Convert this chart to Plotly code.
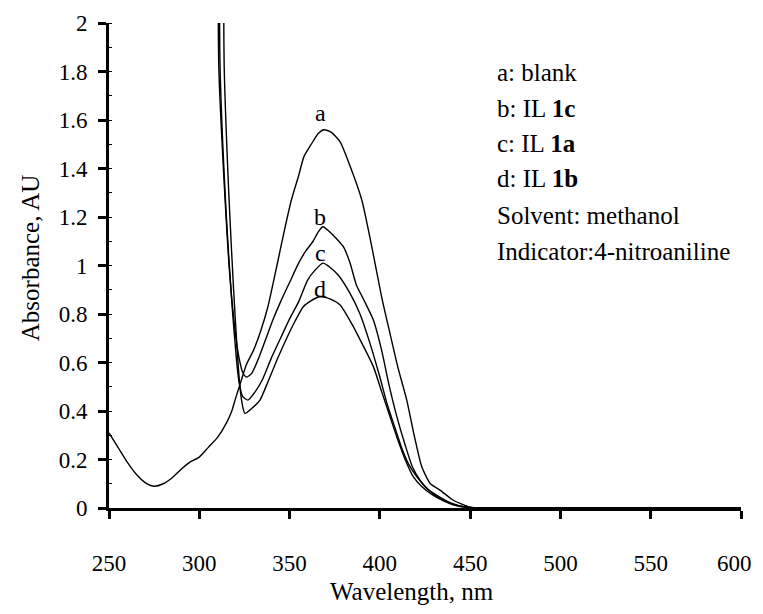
import plotly.graph_objects as go

# ---- data ----
wl_a = [250, 255, 260, 265, 270, 275, 280, 285, 290, 295, 300, 305, 310, 315, 318, 320, 323, 326, 330, 334, 338,
        343, 347, 351, 355, 358, 362, 366, 369, 373, 378, 383.5, 390, 393, 396, 401, 405.6, 410, 414.9, 419,
        423.2, 428, 433.3, 440, 444.4, 450, 460, 600]
abs_a = [0.31, 0.25, 0.19, 0.14, 0.105, 0.09, 0.10, 0.125, 0.16, 0.19, 0.21, 0.25, 0.29, 0.35, 0.40, 0.45, 0.52,
         0.59, 0.65, 0.73, 0.83, 1.0, 1.14, 1.27, 1.37, 1.45, 1.50, 1.545, 1.56, 1.55, 1.51, 1.41, 1.27, 1.17,
         1.06, 0.87, 0.72, 0.58, 0.445, 0.30, 0.17, 0.10, 0.074, 0.035, 0.019, 0.003, 0.0, 0.0]

wl_b = [310.5, 310.8, 314.3, 317, 320, 322, 324, 326.2, 329, 333, 337, 341, 345, 350, 355, 359, 363, 366, 368.5,
        372, 376, 380, 383.5, 387, 391, 396.4, 401, 405, 409.3, 414, 418, 422.2, 426, 432, 438, 444, 450, 460, 600]
abs_b = [2.4, 1.82, 1.27, 0.95, 0.72, 0.62, 0.56, 0.54, 0.555, 0.62, 0.70, 0.78, 0.85, 0.93, 1.01, 1.06, 1.10,
         1.14, 1.16, 1.14, 1.11, 1.075, 1.01, 0.92, 0.86, 0.775, 0.65, 0.51, 0.38, 0.26, 0.17, 0.115, 0.08, 0.05,
         0.025, 0.01, 0.002, 0.0, 0.0]

wl_c = [311.2, 311.5, 315, 318, 320.5, 322, 324, 327, 331, 335, 340, 345, 350, 355, 360, 364, 368.5, 372, 377,
        383.5, 389, 394.5, 400, 404, 407.5, 412, 416, 420.4, 425, 431, 437, 443, 450, 460, 600]
abs_c = [2.4, 1.82, 1.2, 0.85, 0.62, 0.52, 0.46, 0.445, 0.48, 0.53, 0.62, 0.70, 0.78, 0.85, 0.94, 0.98, 1.01,
         0.995, 0.96, 0.885, 0.80, 0.68, 0.54, 0.43, 0.35, 0.25, 0.18, 0.13, 0.09, 0.05, 0.025, 0.01, 0.002,
         0.0, 0.0]

wl_d = [313.5, 313.8, 316.5, 319, 321, 322.5, 324, 325.3, 329, 333.6, 338, 343, 348.4, 353, 357.6, 362, 366, 369,
        373, 378, 385.3, 390, 396.4, 401, 405.6, 410, 414, 418.5, 423, 429, 435, 441, 448, 460, 600]
abs_d = [2.4, 1.82, 1.27, 0.9, 0.65, 0.5, 0.42, 0.39, 0.41, 0.445, 0.52, 0.61, 0.70, 0.77, 0.83, 0.855, 0.87,
         0.87, 0.86, 0.837, 0.748, 0.68, 0.583, 0.48, 0.377, 0.28, 0.20, 0.129, 0.09, 0.055, 0.03, 0.012,
         0.002, 0.0, 0.0]

curve_labels = ["a", "b", "c", "d"]
label_x = [366.9, 366.9, 366.9, 366.9]
label_y = [1.63, 1.20, 1.05, 0.905]

legend_lines = ["a: blank", "b: IL <b>1c</b>", "c: IL <b>1a</b>", "d: IL <b>1b</b>",
                "Solvent: methanol", "Indicator:4-nitroaniline"]
x_ticks = [250, 300, 350, 400, 450, 500, 550, 600]
y_ticks = [0, 0.2, 0.4, 0.6, 0.8, 1, 1.2, 1.4, 1.6, 1.8, 2]

FONT = "Liberation Serif, Times New Roman, serif"

fig = go.Figure()
for xs, ys in [(wl_a, abs_a), (wl_b, abs_b), (wl_c, abs_c), (wl_d, abs_d)]:
    fig.add_trace(go.Scatter(x=xs, y=ys, mode="lines",
                             line=dict(color="black", width=1.4, shape="spline", smoothing=0.6),
                             showlegend=False, hoverinfo="skip"))

for t, xv, yv in zip(curve_labels, label_x, label_y):
    fig.add_annotation(x=xv, y=yv, xref="x", yref="y", text=t, showarrow=False,
                       font=dict(family=FONT, size=24, color="black"))

leg_y = [1.794, 1.649, 1.505, 1.357, 1.208, 1.057]
for t, yv in zip(legend_lines, leg_y):
    fig.add_annotation(x=463.8, y=yv, xref="x", yref="y", text=t, showarrow=False,
                       xanchor="left", yanchor="middle",
                       font=dict(family=FONT, size=25, color="black"))

fig.add_annotation(x=-0.125, y=0.515, xref="paper", yref="paper", text="Absorbance, AU",
                   showarrow=False, textangle=-90, xanchor="center", yanchor="middle",
                   font=dict(family=FONT, size=25, color="black"))
fig.add_annotation(x=0.479, y=-0.173, xref="paper", yref="paper", text="Wavelength, nm",
                   showarrow=False, xanchor="center", yanchor="middle",
                   font=dict(family=FONT, size=25, color="black"))

# last tick label sits at the very right edge: draw it right-anchored so it is not clipped
x_tick_text = [str(v) for v in x_ticks]
last_label = x_tick_text[-1]
x_tick_text[-1] = ""
fig.add_annotation(x=x_ticks[-1], y=-0.114, xref="x", yref="paper", text=last_label,
                   showarrow=False, xanchor="right", yanchor="middle", xshift=13,
                   font=dict(family=FONT, size=23, color="black"))

fig.update_layout(
    width=755, height=598,
    margin=dict(l=101, r=22, t=15, b=98),
    paper_bgcolor="white", plot_bgcolor="white",
    font=dict(family=FONT, size=23, color="black"),
    showlegend=False,
)
fig.update_xaxes(range=[250, 600], tickvals=x_ticks, ticktext=x_tick_text,
                 automargin=False,
                 showgrid=False, zeroline=False, showline=True, linecolor="black", linewidth=3,
                 ticks="outside", ticklen=8, tickwidth=2.5, tickcolor="black",
                 ticklabelstandoff=24, tickfont=dict(family=FONT, size=23, color="black"))
fig.update_yaxes(range=[0, 2], tickvals=y_ticks, ticktext=[("%g" % v) for v in y_ticks],
                 automargin=False,
                 showgrid=False, zeroline=False, showline=True, linecolor="black", linewidth=3,
                 ticks="outside", ticklen=8, tickwidth=2.5, tickcolor="black",
                 ticklabelstandoff=6, tickfont=dict(family=FONT, size=23, color="black"),
                 minor=dict(ticks="inside", ticklen=3, tickwidth=1, tickcolor="black", dtick=0.1))

fig.write_html("out.html")
